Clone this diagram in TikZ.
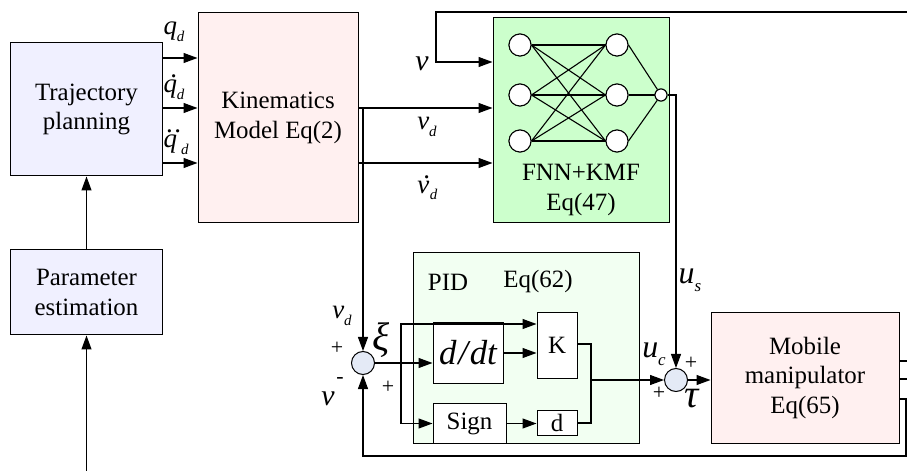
\documentclass[tikz,border=0pt]{standalone}
\usepackage{fontspec}
\setmainfont{Liberation Serif}
\usetikzlibrary{arrows.meta,calc}
\definecolor{lav}{HTML}{F0F0FF}
\definecolor{pinkf}{HTML}{FFF0F0}
\definecolor{fnng}{HTML}{CCFFCC}
\definecolor{pidg}{HTML}{F2FFF2}
\definecolor{sumb}{HTML}{E4EAF6}
\newcommand{\sbs}[3][15]{{\itshape #2}\raisebox{-0.25em}{\fontsize{#1}{#1}\selectfont\itshape #3}}
\newcommand{\ovdot}[1]{\vbox{\offinterlineskip\halign{\hfil##\hfil\cr\kern0.25em{\upshape .}\cr\noalign{\kern0.06em}{\itshape #1}\cr}}}
\newcommand{\ovddot}[1]{\vbox{\offinterlineskip\halign{\hfil##\hfil\cr\kern0.25em{\upshape .\kern0.06em.}\cr\noalign{\kern0.06em}{\itshape #1}\cr}}}
\newcommand{\subd}{\raisebox{-0.25em}{\fontsize{15}{15}\selectfont\itshape d}}
\tikzset{
  box/.style={draw, line width=1bp, inner sep=0pt, align=center, font=\fontsize{25}{30}\selectfont},
  wbox/.style={box, fill=white},
  neur/.style={circle, draw, fill=white, minimum size=22bp, inner sep=0pt, line width=1bp},
  sumj/.style={circle, draw, fill=sumb, minimum size=23bp, inner sep=0pt, line width=1bp},
  lab/.style={inner sep=0pt, font=\fontsize{27}{27}\selectfont},
  sgn/.style={inner sep=0pt, font=\fontsize{22}{22}\selectfont},
  arr/.style={line width=1.1bp, -{Triangle[length=14bp,width=10bp]}},
  ln/.style={line width=1.1bp},
}
\begin{document}
\begin{tikzpicture}[x=1bp,y=-1bp]
\useasboundingbox (0,0) rectangle (907,471);
% main boxes
\node[box, fill=lav, minimum width=151bp, minimum height=133bp] (traj) at (86.5,109.5) {Trajectory\\planning};
\node[box, fill=pinkf, minimum width=160bp, minimum height=210bp] (kin) at (278,118) {Kinematics\\Model Eq(2)};
\node[box, fill=lav, minimum width=151bp, minimum height=85bp] (param) at (86.5,292.5) {Parameter\\estimation};
\node[box, fill=fnng, minimum width=176bp, minimum height=205bp] (fnn) at (581,120.5) {};
\node[box, fill=pidg, minimum width=226bp, minimum height=190bp] (pid) at (526,348) {};
\node[box, fill=pinkf, minimum width=188bp, minimum height=130bp] (mob) at (805,378) {Mobile\\manipulator\\Eq(65)};
% PID inner boxes
\node[wbox, minimum width=70bp, minimum height=60bp, font=\fontsize{35}{35}\selectfont\itshape] (ddt) at (468,353) {d\kern0.05em/\kern0.05em dt};
\node[wbox, minimum width=73bp, minimum height=39bp] (sign) at (469.5,423.5) {Sign};
\node[wbox, minimum width=40bp, minimum height=65bp] (K) at (557,345.5) {K};
\node[wbox, minimum width=40bp, minimum height=25bp] (dbox) at (557,423) {d};
\node[lab, font=\fontsize{25}{25}\selectfont] (pidl) at (448,282) {PID};
\node[lab, font=\fontsize{25}{25}\selectfont] (eql) at (538,282) {Eq(62)};
% summing junctions
\node[sumj] (sum1) at (363,363) {};
\node[sumj] (sum2) at (676,380) {};
% neural network
\node[box, draw=none] (fnnlab) at (581,190) {FNN+KMF\\Eq(47)};
\coordinate (i1) at (520,45); \coordinate (i2) at (520,95); \coordinate (i3) at (520,141);
\coordinate (h1) at (617,45); \coordinate (h2) at (617,95); \coordinate (h3) at (617,141);
\node[neur] (in1) at (i1) {}; \node[neur] (in2) at (i2) {}; \node[neur] (in3) at (i3) {};
\node[neur] (hd1) at (h1) {}; \node[neur] (hd2) at (h2) {}; \node[neur] (hd3) at (h3) {};
\node[neur, minimum size=12bp] (out) at (661,95) {};
\foreach \a in {1,2,3}{\foreach \b in {1,2,3}{\draw[ln] (in\a.east) -- (hd\b.west);}}
\foreach \b in {1,2,3}{\draw[ln] (hd\b.east) -- (out);}
\node[neur] at (i1) {}; \node[neur] at (i2) {}; \node[neur] at (i3) {};
\node[neur] at (h1) {}; \node[neur] at (h2) {}; \node[neur] at (h3) {};
\node[neur, minimum size=12bp] at (661,95) {};
% trajectory -> kinematics
\draw[arr] (traj.east |- 0,58) -- (kin.west |- 0,58);
\draw[arr] (traj.east |- 0,108) -- (kin.west |- 0,108);
\draw[arr] (traj.east |- 0,163) -- (kin.west |- 0,163);
\node[lab] (lq) at (174,32) {\sbs{q}{d}};
\node[lab] (lqd) at (174,87) {\ovdot{q}\subd};
\node[lab] (lqdd) at (174,142) {\ovddot{q}\subd};
% parameter estimation
\coordinate (pin) at (86.5,471);
\draw[arr] (pin) -- (param.south);
\draw[arr] (param.north) -- (traj.south);
% kinematics -> FNN
\draw[arr] (kin.east |- 0,108) -- (fnn.west |- 0,108);
\draw[arr] (kin.east |- 0,163) -- (fnn.west |- 0,163);
\node[lab] (lvd) at (427,127) {\sbs{v}{d}};
\node[lab] (lvdd) at (427,188) {\ovdot{v}\subd};
% v feedback into FNN
\coordinate (vin) at (907,12);
\coordinate (vc) at (436,12);
\draw[arr] (vin) -- (vc) |- (fnn.west |- 0,62);
\node[lab, font=\fontsize{30}{30}\selectfont] (lv) at (422,64) {\itshape v};
% vd down to sum1
\coordinate (kb) at (363,108);
\draw[arr] (kb) -- (sum1.north);
% FNN output -> sum2
\draw[arr] (out.east) -| (sum2.north);
\node[lab, font=\fontsize{32}{32}\selectfont] (lus) at (690,280) {\sbs[17]{u}{s}};
% sum1 -> PID
\draw[arr] (sum1.east) -- (ddt.west |- sum1.east);
\coordinate (br) at (401,363);
\draw[arr] (br) |- (K.west |- 0,324);
\draw[arr] (br) |- (sign.west);
\draw[arr] (ddt.east) -- (K.west |- ddt.east);
\draw[arr] (sign.east) -- (dbox.west |- sign.east);
\coordinate (kj) at (591,380);
\draw[ln] (K.east |- 0,344) -| (kj |- dbox.east) -- (dbox.east);
\draw[arr] (kj) -- (sum2.west);
% sum2 -> mobile
\draw[arr] (sum2.east) -- (mob.west |- sum2.east);
% mobile outputs
\coordinate (mo1) at (907,361); \coordinate (mo2) at (907,379);
\draw[ln] (mob.east |- mo1) -- (mo1);
\draw[ln] (mob.east |- mo2) -- (mo2);
\coordinate (fbr) at (906,456);
\draw[arr] (mob.east |- 0,399) -| (fbr) -| (sum1.south);
% sum1 labels
\node[lab] (lvd2) at (342,316) {\sbs{v}{d}};
\node[sgn] (p1) at (337,348) {+};
\node[lab, font=\fontsize{40}{40}\selectfont] (lxi) at (381,340) {\itshape ξ};
\node[sgn] (m1) at (340,381) {-};
\node[lab, font=\fontsize{30}{30}\selectfont] (lv2) at (328,399) {\itshape v};
\node[sgn] (p2) at (388,387) {+};
% sum2 labels
\node[lab, font=\fontsize{32}{32}\selectfont] (luc) at (654,354) {\sbs[17]{u}{c}};
\node[sgn] (p3) at (691,363) {+};
\node[sgn] (p4) at (659,393) {+};
\node[lab, font=\fontsize{40}{40}\selectfont] (ltau) at (692,399) {\itshape τ};
\end{tikzpicture}
\end{document}
